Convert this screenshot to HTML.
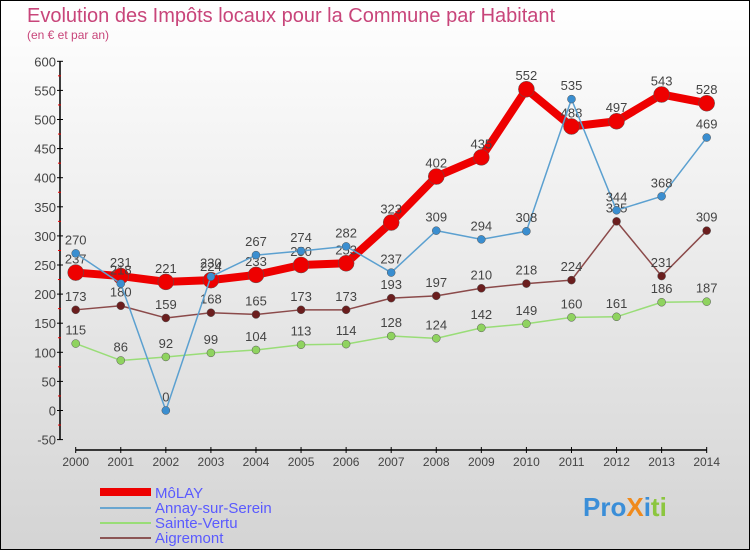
<!DOCTYPE html>
<html><head><meta charset="utf-8"><style>
body{margin:0;width:750px;height:550px;overflow:hidden}
svg{display:block;font-family:"Liberation Sans",sans-serif}
</style></head><body>
<svg width="750" height="550">
<defs><linearGradient id="bg" x1="0" y1="0" x2="0" y2="1"><stop offset="0" stop-color="#ffffff"/><stop offset="1" stop-color="#d4d4d4"/></linearGradient></defs>
<rect x="0.5" y="0.5" width="749" height="549" fill="url(#bg)" stroke="#000"/>
<text x="27" y="22" font-size="20" fill="#c8457a">Evolution des Impôts locaux pour la Commune par Habitant</text>
<text x="27" y="39" font-size="12" fill="#c8457a">(en € et par an)</text>
<g id="axes"></g>
<g id="series"></g>
<g>
<line x1="100" y1="492" x2="151" y2="492" stroke="#ee0000" stroke-width="8"/>
<text x="155" y="498" font-size="15" fill="#5a5aff">MôLAY</text>
<line x1="100" y1="508" x2="151" y2="508" stroke="#6aa6d0" stroke-width="2"/>
<text x="155" y="513" font-size="15" fill="#5a5aff">Annay-sur-Serein</text>
<line x1="100" y1="523" x2="151" y2="523" stroke="#99dd77" stroke-width="2"/>
<text x="155" y="528" font-size="15" fill="#5a5aff">Sainte-Vertu</text>
<line x1="100" y1="538" x2="151" y2="538" stroke="#8b5555" stroke-width="2"/>
<text x="155" y="543" font-size="15" fill="#5a5aff">Aigremont</text>
</g>
<text x="583" y="516" font-size="26" font-weight="bold"><tspan fill="#3a8ed8">Pro</tspan><tspan fill="#f08a1c">X</tspan><tspan fill="#3a8ed8">i</tspan><tspan fill="#8cc63f">ti</tspan></text>
</svg>
<script>
const years=[2000,2001,2002,2003,2004,2005,2006,2007,2008,2009,2010,2011,2012,2013,2014];
const yTicks=[-50,0,50,100,150,200,250,300,350,400,450,500,550,600];
const molay=[237,231,221,224,233,250,253,323,402,435,552,488,497,543,528];
const annay=[270,218,0,230,267,274,282,237,309,294,308,535,344,368,469];
const sainteVertu=[115,86,92,99,104,113,114,128,124,142,149,160,161,186,187];
const aigremont=[173,180,159,168,165,173,173,193,197,210,218,224,325,231,309];
const NS="http://www.w3.org/2000/svg";
const xS=i=>75.7+i*45.07;
const yS=v=>410.5-v*0.582;
function mk(tag,attrs,parent){const e=document.createElementNS(NS,tag);for(const k in attrs)e.setAttribute(k,attrs[k]);parent.appendChild(e);return e;}
const ax=document.getElementById('axes');
let e=mk('line',{x1:60,y1:yS(600),x2:60,y2:yS(-50),stroke:'#000','stroke-width':1.5},ax);


e=mk('line',{x1:xS(0),y1:450,x2:xS(14),y2:450,stroke:'#000','stroke-width':1.5},ax);


yTicks.forEach((t,i)=>{
  mk('line',{x1:57,y1:yS(t),x2:63,y2:yS(t),stroke:'#000'},ax);
  if(i<yTicks.length-1)mk('line',{x1:58,y1:yS(t+25),x2:61,y2:yS(t+25),stroke:'#e00'},ax);
  const tx=mk('text',{x:56,y:yS(t)+5,'font-size':13,fill:'#444','text-anchor':'end'},ax);
  tx.textContent=t;
  
  
});
years.forEach((y,i)=>{
  mk('line',{x1:xS(i),y1:447,x2:xS(i),y2:453,stroke:'#000'},ax);
  const tx=mk('text',{x:xS(i),y:466,'font-size':12,fill:'#444','text-anchor':'middle'},ax);
  tx.textContent=y;
  
  
});
const sg=document.getElementById('series');
function drawSeries(vals,color,w,r,fill,name){
  const g=mk('g',{},sg);
  
  
  const pl=mk('polyline',{points:vals.map((v,i)=>xS(i)+','+yS(v)).join(' '),fill:'none',stroke:color,'stroke-width':w,'stroke-linejoin':'round'},g);
  
  
  vals.forEach((v,i)=>{
    const c=mk('circle',{cx:xS(i),cy:yS(v),r:r,fill:fill,stroke:'#555','stroke-width':0.5},g);
    
    
    const t=mk('text',{x:xS(i),y:yS(v)-9,'font-size':13,fill:'#444','text-anchor':'middle'},g);
    t.textContent=v;
    
    
  });
}
drawSeries(aigremont,'#8b4a4a',1.5,4,'#6b1e1e','aigremont');
drawSeries(sainteVertu,'#99dd77',1.5,4,'#8fd35f','sainte-vertu');
drawSeries(molay,'#ee0000',8,8,'#ee0000','molay');
drawSeries(annay,'#5ba0d0',1.5,4,'#3a8ed0','annay');
</script>
</body></html>
